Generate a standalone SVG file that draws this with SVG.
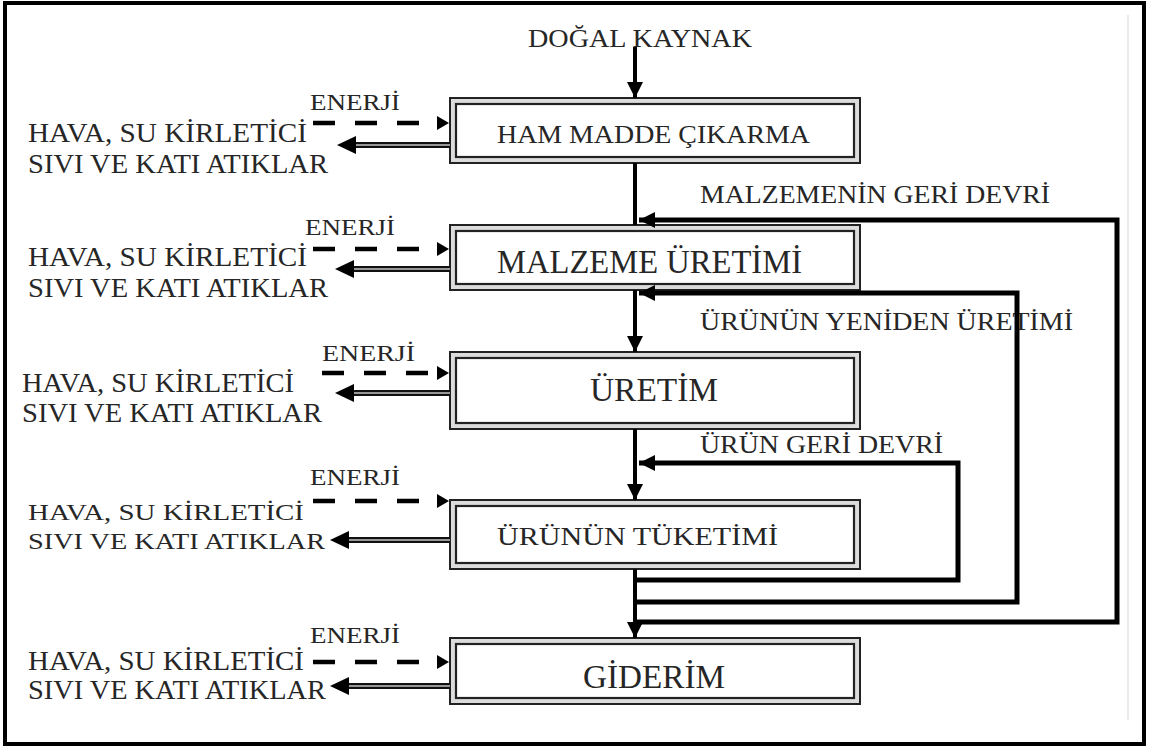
<svg xmlns="http://www.w3.org/2000/svg" width="1149" height="749" viewBox="0 0 1149 749">
  <defs>
    <style>
      text { font-family: "Liberation Serif", "Times New Roman", serif; fill: #262626; }
      .side { font-size: 27px; }
      .side-tight { font-size: 24px; }
      .en { font-size: 24px; }
      .lbl { font-size: 26px; }
      .big { font-size: 33px; }
      .mid { font-size: 26px; }
      .flow { stroke: #000; stroke-width: 4; fill: none; }
      .loop { stroke: #000; stroke-width: 5; fill: none; stroke-linejoin: miter; }
      .dash { stroke: #000; stroke-width: 4.5; fill: none; stroke-dasharray: 22 20; }
      .waste { stroke: #111; stroke-width: 6; fill: none; }
      .waste-in { stroke: #c4c4c4; stroke-width: 1.6; fill: none; }
      .box-out { fill: #dcdcdc; stroke: #222; stroke-width: 2; }
      .box-in { fill: #fff; stroke: #222; stroke-width: 2.2; }
    </style>
    <marker id="head" markerUnits="userSpaceOnUse" markerWidth="18" markerHeight="18" refX="16" refY="8" orient="auto">
      <path d="M0,0 L16,8 L0,16 z" fill="#000"/>
    </marker>
    <marker id="small" markerUnits="userSpaceOnUse" markerWidth="14" markerHeight="16" refX="0" refY="7" orient="auto">
      <path d="M0,0 L12,7 L0,14 z" fill="#000"/>
    </marker>
    <marker id="big" markerUnits="userSpaceOnUse" markerWidth="20" markerHeight="20" refX="0" refY="9" orient="auto">
      <path d="M0,0 L19,9 L0,18 z" fill="#000"/>
    </marker>
  </defs>

  <rect width="1149" height="749" fill="#fff"/>
  <!-- frame -->
  <rect x="5" y="3" width="1139" height="741" fill="none" stroke="#000" stroke-width="4"/>
  <line x1="1128" y1="15" x2="1128" y2="720" stroke="#e4e4e4" stroke-width="1.5"/>

  <text x="528" y="47" class="lbl" textLength="224" lengthAdjust="spacingAndGlyphs">DOĞAL KAYNAK</text>

  <!-- process boxes -->
  <g id="ham-madde">
    <rect class="box-out" x="450" y="98" width="410" height="65"/>
    <rect class="box-in" x="456" y="104" width="398" height="53"/>
    <text x="497" y="143" class="mid" textLength="313" lengthAdjust="spacingAndGlyphs">HAM MADDE ÇIKARMA</text>
  </g>
  <g id="malzeme-uretimi">
    <rect class="box-out" x="450" y="225" width="410" height="65"/>
    <rect class="box-in" x="456" y="231" width="398" height="53"/>
    <text x="497" y="273" class="big" textLength="305" lengthAdjust="spacingAndGlyphs">MALZEME ÜRETİMİ</text>
  </g>
  <g id="uretim">
    <rect class="box-out" x="450" y="352" width="410" height="77"/>
    <rect class="box-in" x="456" y="358" width="398" height="65"/>
    <text x="590" y="401" class="big" textLength="128" lengthAdjust="spacingAndGlyphs">ÜRETİM</text>
  </g>
  <g id="urunun-tuketimi">
    <rect class="box-out" x="450" y="500" width="410" height="69"/>
    <rect class="box-in" x="456" y="506" width="398" height="57"/>
    <text x="497" y="545" class="mid" textLength="281" lengthAdjust="spacingAndGlyphs">ÜRÜNÜN TÜKETİMİ</text>
  </g>
  <g id="giderim">
    <rect class="box-out" x="450" y="638" width="410" height="66"/>
    <rect class="box-in" x="456" y="644" width="398" height="54"/>
    <text x="583" y="688" class="big" textLength="142" lengthAdjust="spacingAndGlyphs">GİDERİM</text>
  </g>

  <!-- energy inputs and waste outputs, one per stage -->
  <g id="side-1">
    <text x="310" y="110" class="en" textLength="90" lengthAdjust="spacingAndGlyphs">ENERJİ</text>
    <text x="28" y="142" class="side" textLength="279" lengthAdjust="spacingAndGlyphs">HAVA, SU KİRLETİCİ</text>
    <text x="28" y="173" class="side" textLength="300" lengthAdjust="spacingAndGlyphs">SIVI VE KATI ATIKLAR</text>
  </g>
  <g id="side-2">
    <text x="305" y="235" class="en" textLength="90" lengthAdjust="spacingAndGlyphs">ENERJİ</text>
    <text x="28" y="266" class="side" textLength="279" lengthAdjust="spacingAndGlyphs">HAVA, SU KİRLETİCİ</text>
    <text x="28" y="297" class="side" textLength="300" lengthAdjust="spacingAndGlyphs">SIVI VE KATI ATIKLAR</text>
  </g>
  <g id="side-3">
    <text x="322" y="361" class="en" textLength="93" lengthAdjust="spacingAndGlyphs">ENERJİ</text>
    <text x="22" y="392" class="side" textLength="272" lengthAdjust="spacingAndGlyphs">HAVA, SU KİRLETİCİ</text>
    <text x="22" y="422" class="side" textLength="300" lengthAdjust="spacingAndGlyphs">SIVI VE KATI ATIKLAR</text>
  </g>
  <g id="side-4">
    <text x="310" y="485" class="en" textLength="90" lengthAdjust="spacingAndGlyphs">ENERJİ</text>
    <text x="28" y="520" class="side-tight" textLength="276" lengthAdjust="spacingAndGlyphs">HAVA, SU KİRLETİCİ</text>
    <text x="28" y="549" class="side-tight" textLength="297" lengthAdjust="spacingAndGlyphs">SIVI VE KATI ATIKLAR</text>
  </g>
  <g id="side-5">
    <text x="310" y="643" class="en" textLength="90" lengthAdjust="spacingAndGlyphs">ENERJİ</text>
    <text x="28" y="670" class="side" textLength="276" lengthAdjust="spacingAndGlyphs">HAVA, SU KİRLETİCİ</text>
    <text x="28" y="699" class="side" textLength="298" lengthAdjust="spacingAndGlyphs">SIVI VE KATI ATIKLAR</text>
  </g>

  <!-- recycling loop labels -->
  <text x="700" y="203" class="lbl" textLength="350" lengthAdjust="spacingAndGlyphs">MALZEMENİN GERİ DEVRİ</text>
  <text x="700" y="330" class="lbl" textLength="373" lengthAdjust="spacingAndGlyphs">ÜRÜNÜN YENİDEN ÜRETİMİ</text>
  <text x="700" y="453" class="lbl" textLength="243" lengthAdjust="spacingAndGlyphs">ÜRÜN GERİ DEVRİ</text>

  <g id="connectors">
    <!-- main flow -->
    <line class="flow" x1="635" y1="47" x2="635" y2="98" marker-end="url(#head)"/>
    <line class="flow" x1="635" y1="163" x2="635" y2="225"/>
    <line class="flow" x1="635" y1="290" x2="635" y2="352" marker-end="url(#head)"/>
    <line class="flow" x1="635" y1="429" x2="635" y2="500" marker-end="url(#head)"/>
    <line class="flow" x1="635" y1="569" x2="635" y2="638" marker-end="url(#head)"/>

    <!-- recycling loops -->
    <path class="loop" d="M635,622 H1117 V220 H639" marker-end="url(#head)"/>
    <path class="loop" d="M635,602 H1017 V293 H639" marker-end="url(#head)"/>
    <path class="loop" d="M635,580 H958 V463 H639" marker-end="url(#head)"/>

    <!-- energy inputs -->
    <line class="dash" x1="313" y1="123" x2="437" y2="123" marker-end="url(#small)"/>
    <line class="dash" x1="313" y1="249" x2="437" y2="249" marker-end="url(#small)"/>
    <line class="dash" x1="322" y1="373" x2="437" y2="373" marker-end="url(#small)"/>
    <line class="dash" x1="313" y1="501" x2="437" y2="501" marker-end="url(#small)"/>
    <line class="dash" x1="313" y1="662" x2="437" y2="662" marker-end="url(#small)"/>

    <!-- waste outputs (double line) -->
    <line class="waste" x1="450" y1="145" x2="356" y2="145" marker-end="url(#big)"/>
    <line class="waste-in" x1="450" y1="145" x2="356" y2="145"/>
    <line class="waste" x1="450" y1="269" x2="354" y2="269" marker-end="url(#big)"/>
    <line class="waste-in" x1="450" y1="269" x2="354" y2="269"/>
    <line class="waste" x1="450" y1="393" x2="354" y2="393" marker-end="url(#big)"/>
    <line class="waste-in" x1="450" y1="393" x2="354" y2="393"/>
    <line class="waste" x1="450" y1="540" x2="349" y2="540" marker-end="url(#big)"/>
    <line class="waste-in" x1="450" y1="540" x2="349" y2="540"/>
    <line class="waste" x1="450" y1="686" x2="349" y2="686" marker-end="url(#big)"/>
    <line class="waste-in" x1="450" y1="686" x2="349" y2="686"/>
  </g>
</svg>
